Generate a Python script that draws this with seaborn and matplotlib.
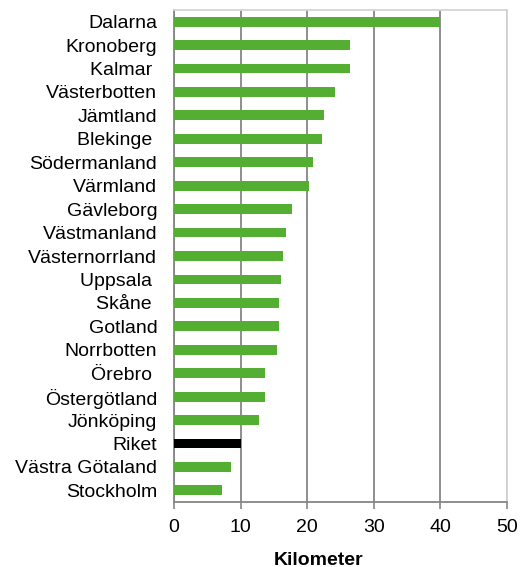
import matplotlib
matplotlib.use("Agg")
import matplotlib.pyplot as plt
import seaborn as sns
import pandas as pd

regions = ["Dalarna", "Kronoberg", "Kalmar ", "Västerbotten", "Jämtland", "Blekinge ",
           "Södermanland", "Värmland", "Gävleborg", "Västmanland", "Västernorrland",
           "Uppsala ", "Skåne ", "Gotland", "Norrbotten", "Örebro ", "Östergötland",
           "Jönköping", "Riket", "Västra Götaland", "Stockholm"]
values = [40.0, 26.5, 26.5, 24.2, 22.5, 22.2, 20.8, 20.2, 17.7, 16.8, 16.3,
          16.0, 15.7, 15.7, 15.4, 13.7, 13.7, 12.8, 10.0, 8.6, 7.2]
xticks = [0, 10, 20, 30, 40, 50]
xlabel = "Kilometer"

green = "#53ae32"
colors = {r: ("#000000" if r == "Riket" else green) for r in regions}

sns.set_theme(style="white")
plt.rcParams["font.family"] = ["Liberation Sans", "DejaVu Sans"]

df = pd.DataFrame({"region": regions, "km": values})

fig = plt.figure(figsize=(5.24, 5.67), dpi=100)
ax = fig.add_axes([0.332, 0.1146, 0.6356, 0.8678])

sns.barplot(data=df, x="km", y="region", hue="region", palette=colors,
            legend=False, width=0.42, ax=ax, saturation=1, edgecolor="none",
            zorder=3)

ax.set_xlim(0, 50)
ax.set_ylim(len(regions) - 0.5, -0.5)
ax.set_xticks(xticks)
ax.set_xticklabels([str(t) for t in xticks], fontsize=14)
ax.tick_params(axis="x", direction="out", length=5, width=1.2, color="#868686",
               pad=7, bottom=True)
ax.tick_params(axis="y", length=0, pad=12, labelsize=14)
for lab in ax.get_yticklabels():
    lab.set_color("#000000")
for lab in ax.get_xticklabels():
    lab.set_color("#000000")

ax.grid(axis="x", color="#868686", lw=1.3, zorder=0)
ax.grid(axis="y", visible=False)

ax.spines["left"].set_color("#868686")
ax.spines["left"].set_linewidth(1.3)
ax.spines["bottom"].set_color("#868686")
ax.spines["bottom"].set_linewidth(1.3)
ax.spines["top"].set_color("#d4d4d4")
ax.spines["top"].set_linewidth(1.3)
ax.spines["right"].set_color("#d4d4d4")
ax.spines["right"].set_linewidth(1.3)

ax.set_ylabel("")
ax.set_xlabel(xlabel, fontsize=14, fontweight="bold", color="#000000",
              va="baseline")
ax.xaxis.set_label_coords(0.435, -0.127)

fig.savefig("out.png", dpi=100)
